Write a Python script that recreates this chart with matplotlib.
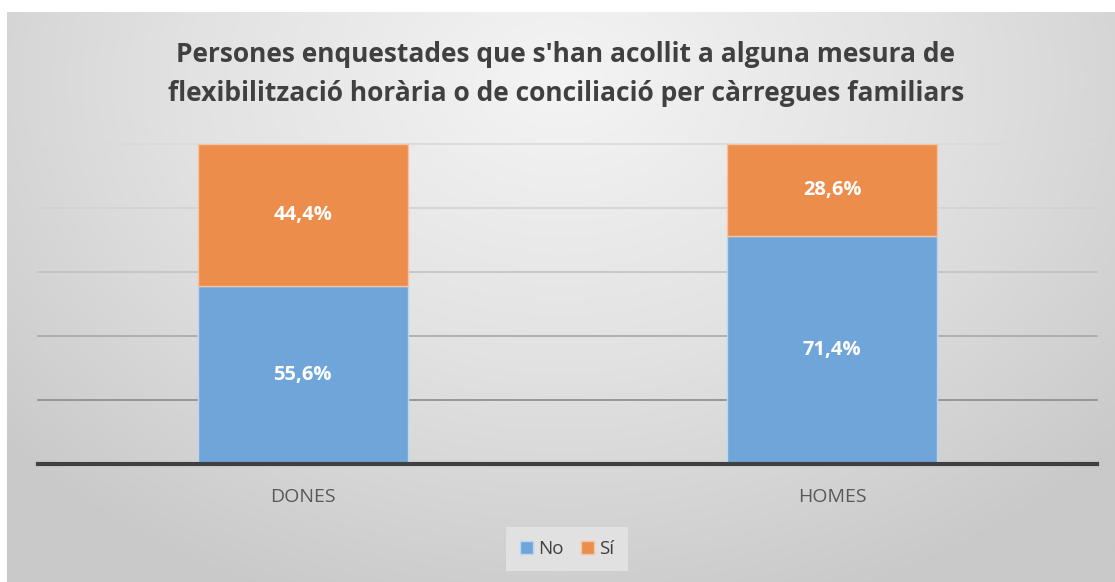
import numpy as np
import matplotlib
matplotlib.use("Agg")
import matplotlib.pyplot as plt
from matplotlib.colors import LinearSegmentedColormap

categories = ["DONES", "HOMES"]
no_vals = [55.6, 71.4]
si_vals = [44.4, 28.6]
series_names = ["No", "Sí"]
title = "Persones enquestades que s'han acollit a alguna mesura de\nflexibilització horària o de conciliació per càrregues familiars"

W, H = 1115, 582
fig = plt.figure(figsize=(W / 100, H / 100), dpi=100)
fig.patch.set_facecolor("white")

# background radial gradient in chart frame
bg = fig.add_axes([7 / W, 0, (W - 7) / W, 1 - 12 / H])
yy, xx = np.mgrid[0:1:300j, 0:1:600j]
r = np.sqrt(((xx - 0.5) / 0.75) ** 2 + ((yy - 0.12) / 1.1) ** 2)
cmap = LinearSegmentedColormap.from_list("g", ["#f4f4f4", "#e2e2e2", "#c9c9c9"])
bg.imshow(r, cmap=cmap, aspect="auto", extent=[0, 1, 1, 0], vmin=0, vmax=0.9)
bg.set_axis_off()

# main axes: x 38..1097, y 144..464
x0, x1, ytop, ybot = 38, 1097, 144, 464
ax = fig.add_axes([x0 / W, 1 - ybot / H, (x1 - x0) / W, (ybot - ytop) / H])
ax.set_facecolor("none")
ax.set_ylim(0, 100)
ax.set_xlim(-0.5, 1.5)

grid_cols = ["#8c8c8c", "#a8a8a8", "#c2c2c2", "#d2d2d2", "#dadada"]
for v, c in zip([20, 40, 60, 80, 100], grid_cols):
    ax.axhline(v, color=c, lw=1.2, zorder=0, clip_on=False)

x = np.arange(len(categories))
bw = 0.397
blue, orange = "#6fa5d8", "#ed8d4b"
b1 = ax.bar(x, no_vals, bw, color=blue, edgecolor="#bcd6ef", lw=1.0, label=series_names[0], zorder=2)
b2 = ax.bar(x, si_vals, bw, bottom=no_vals, color=orange, edgecolor="#f6c4a2", lw=1.0, label=series_names[1], zorder=2)

for i in range(len(categories)):
    ax.text(x[i], no_vals[i] / 2, f"{no_vals[i]:.1f}%".replace(".", ","), ha="center", va="center",
            color="white", fontsize=14.5, fontweight="bold", family="Open Sans", zorder=3)
    ax.text(x[i], no_vals[i] + si_vals[i] / 2, f"{si_vals[i]:.1f}%".replace(".", ","), ha="center", va="center",
            color="white", fontsize=14.5, fontweight="bold", family="Open Sans", zorder=3)

ax.axhline(0, color="#404040", lw=3, zorder=4, clip_on=False)
ax.set_yticks([])
ax.set_xticks(x)
ax.set_xticklabels(categories, fontsize=14, color="#595959", family="Open Sans")
ax.tick_params(axis="x", length=0, pad=17)
for s in ax.spines.values():
    s.set_visible(False)

fig.text(566 / W, 1 - 74 / H, title, ha="center", va="center", fontsize=19, fontweight="bold",
         color="#404040", family="Open Sans", linespacing=1.6)

leg = fig.legend(handles=[b1, b2], labels=series_names, loc="center", bbox_to_anchor=(567 / W, 1 - 549 / H),
                 ncol=2, frameon=True, handlelength=0.7, handleheight=0.7, handletextpad=0.3,
                 columnspacing=0.9, prop={"family": "Open Sans", "size": 13.5})
leg.get_frame().set_facecolor("#e6e6e6")
leg.get_frame().set_edgecolor("none")
leg.get_frame().set_alpha(0.8)
leg.get_frame().set_boxstyle("square", pad=0.3)
for t in leg.get_texts():
    t.set_color("#404040")

fig.savefig("out.png", dpi=100)
